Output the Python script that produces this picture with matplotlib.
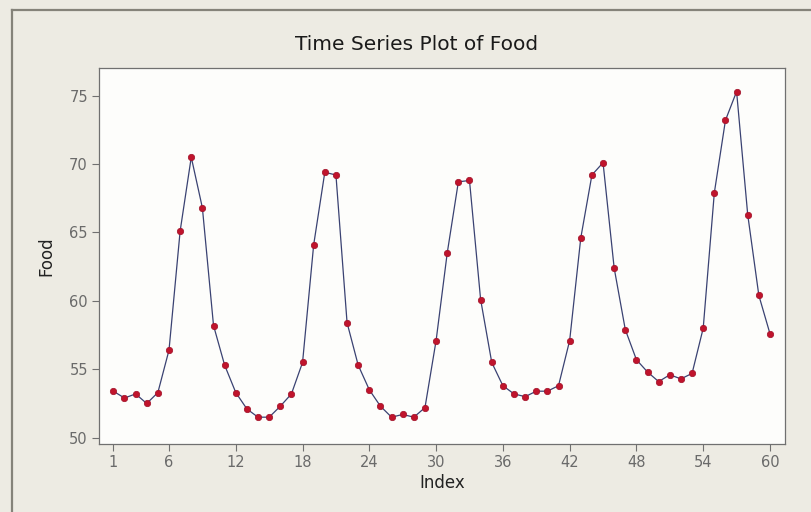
import matplotlib
matplotlib.use("Agg")
import matplotlib.pyplot as plt
from matplotlib.lines import Line2D

index = list(range(1, 61))
food = [53.4, 52.9, 53.2, 52.5, 53.3, 56.4, 65.1, 70.5, 66.8, 58.2,
        55.3, 53.3, 52.1, 51.5, 51.5, 52.3, 53.2, 55.5, 64.1, 69.4,
        69.2, 58.4, 55.3, 53.5, 52.3, 51.5, 51.7, 51.5, 52.2, 57.1,
        63.5, 68.7, 68.8, 60.1, 55.5, 53.8, 53.2, 53.0, 53.4, 53.4,
        53.8, 57.1, 64.6, 69.2, 70.1, 62.4, 57.9, 55.7, 54.8, 54.1,
        54.6, 54.3, 54.7, 58.0, 67.9, 73.2, 75.3, 66.3, 60.4, 57.6]
xticks = [1, 6, 12, 18, 24, 30, 36, 42, 48, 54, 60]
yticks = [50, 55, 60, 65, 70, 75]

W, H = 812, 512
fig = plt.figure(figsize=(W / 100, H / 100), dpi=100)
fig.patch.set_facecolor("#EDEBE3")

# panel border (top and left)
fig.add_artist(Line2D([12 / W, 1], [1 - 10 / H, 1 - 10 / H], color="#85837a", lw=1.6,
                      transform=fig.transFigure))
fig.add_artist(Line2D([12 / W, 12 / W], [0, 1 - 10 / H], color="#85837a", lw=1.6,
                      transform=fig.transFigure))

ax = fig.add_axes([99 / W, 1 - 444 / H, (785 - 99) / W, (444 - 68) / H])
ax.set_facecolor("#FDFDFB")
ax.plot(index, food, color="#3a4272", lw=0.9, zorder=2)
ax.plot(index, food, linestyle="none", marker="o", markersize=4.6,
        markerfacecolor="#c0142c", markeredgecolor="#a01028", markeredgewidth=0.5, zorder=3)

ax.set_xlim(-0.29, 61.35)
ax.set_ylim(49.54, 77.02)
ax.set_xticks(xticks)
ax.set_yticks(yticks)
ax.tick_params(direction="out", length=5, width=0.8, color="#707070",
               labelcolor="#6a6a6a", labelsize=10.5, pad=3)
for s in ax.spines.values():
    s.set_color("#707070")
    s.set_linewidth(0.9)

ax.set_xlabel("Index", fontsize=12, color="#222222", labelpad=3)
ax.set_ylabel("Food", fontsize=12, color="#222222", labelpad=10)
fig.text(417 / W, 1 - 45 / H, "Time Series Plot of Food", ha="center", va="center",
         fontsize=14.5, color="#1a1a1a")

fig.savefig("out.png", dpi=100, facecolor=fig.get_facecolor())
